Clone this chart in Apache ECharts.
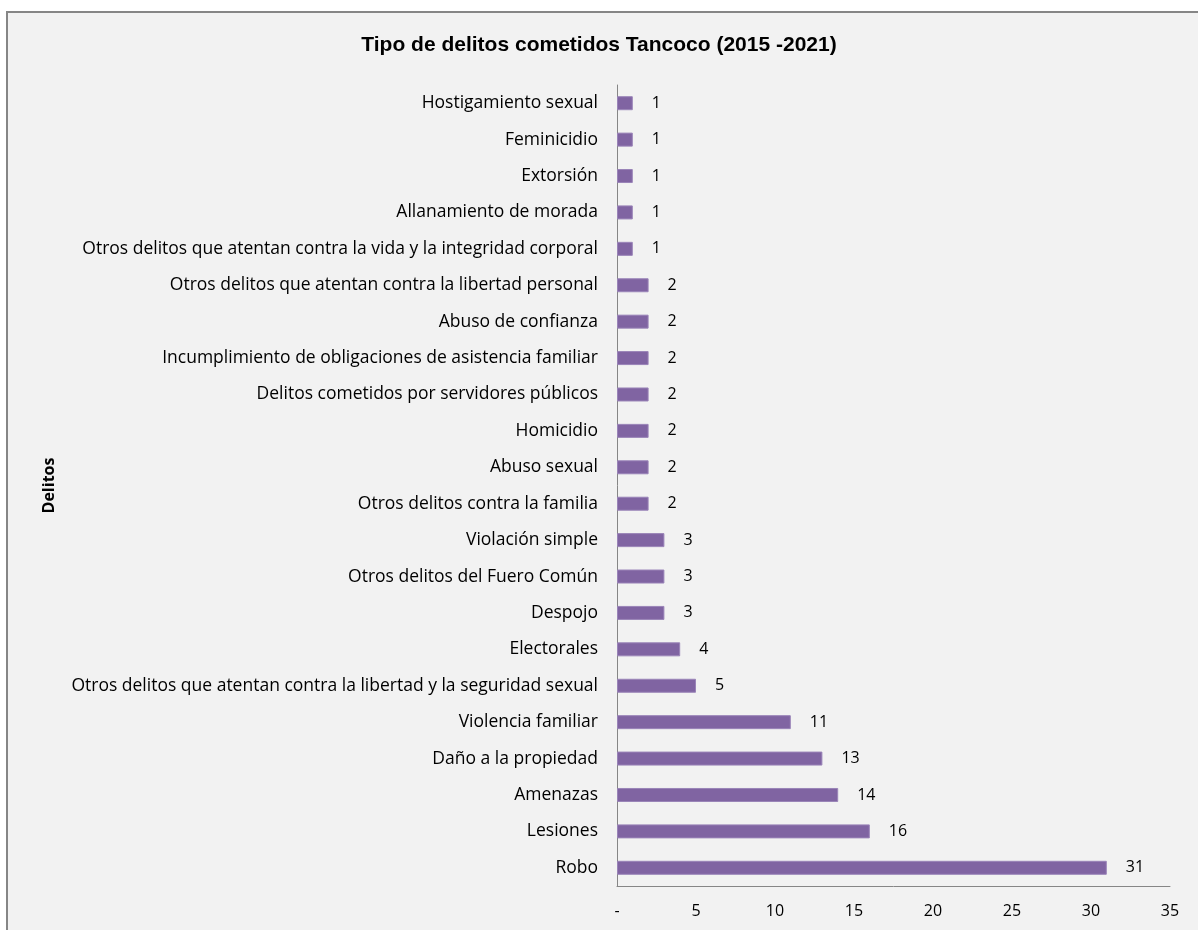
<!DOCTYPE html>
<html><head><meta charset="utf-8">
<script src="https://cdn.jsdelivr.net/npm/echarts@6/dist/echarts.min.js"></script>
<style>html,body{margin:0;padding:0;background:#fff}#c{width:1198px;height:930px}</style>
</head><body><div id="c"></div>
<script>
const categories = [
  "Hostigamiento sexual",
  "Feminicidio",
  "Extorsión",
  "Allanamiento de morada",
  "Otros delitos que atentan contra la vida y la integridad corporal",
  "Otros delitos que atentan contra la libertad personal",
  "Abuso de confianza",
  "Incumplimiento de obligaciones de asistencia familiar",
  "Delitos cometidos por servidores públicos",
  "Homicidio",
  "Abuso sexual",
  "Otros delitos contra la familia",
  "Violación simple",
  "Otros delitos del Fuero Común",
  "Despojo",
  "Electorales",
  "Otros delitos que atentan contra la libertad y la seguridad sexual",
  "Violencia familiar",
  "Daño a la propiedad",
  "Amenazas",
  "Lesiones",
  "Robo"
];
const values = [1,1,1,1,1,2,2,2,2,2,2,2,3,3,3,4,5,11,13,14,16,31];
const xTicks = {0:"-",5:"5",10:"10",15:"15",20:"20",25:"25",30:"30",35:"35"};
const titleText = "Tipo de delitos cometidos Tancoco (2015 -2021)";
const yName = "Delitos";

const FONT = "'Open Sans','Liberation Sans',sans-serif";
const TFONT = "'Liberation Sans',sans-serif";
const chart = echarts.init(document.getElementById('c'));
chart.setOption({
  backgroundColor: '#ffffff',
  animation: false,
  graphic: [{
    type: 'rect', z: -10,
    shape: {x: 7, y: 12, width: 1200, height: 930},
    style: {fill: '#F2F2F2', stroke: '#868686', lineWidth: 2}
  }],
  title: {
    text: titleText, left: 'center', top: 30, 
    textStyle: {fontFamily: TFONT, fontSize: 21, fontWeight: 'bold', color: '#000'}
  },
  grid: {left: 617, right: 28, top: 85, bottom: 44, containLabel: false},
  xAxis: {
    type: 'value', min: 0, max: 35, interval: 5,
    axisLine: {show: true, lineStyle: {color: '#868686', width: 1}},
    axisTick: {show: false},
    splitLine: {show: false},
    axisLabel: {
      margin: 17, color: '#000', fontFamily: FONT, fontSize: 16,
      formatter: v => xTicks[v] !== undefined ? xTicks[v] : String(v)
    }
  },
  yAxis: {
    type: 'category', data: categories, inverse: true,
    name: yName, nameLocation: 'middle', nameGap: 560, nameRotate: 90,
    nameTextStyle: {fontFamily: FONT, fontSize: 16, fontWeight: 'bold', color: '#000'},
    axisLine: {show: true, lineStyle: {color: '#868686', width: 1}},
    axisTick: {show: false},
    axisLabel: {margin: 19, color: '#000', fontFamily: FONT, fontSize: 17.5}
  },
  series: [{
    type: 'bar', data: values, barWidth: 14,
    itemStyle: {color: '#8064A2', borderColor: '#9A84B8', borderWidth: 1},
    label: {show: true, position: 'right', distance: 19, color: '#000',
            fontFamily: FONT, fontSize: 16}
  }]
});
</script></body></html>
